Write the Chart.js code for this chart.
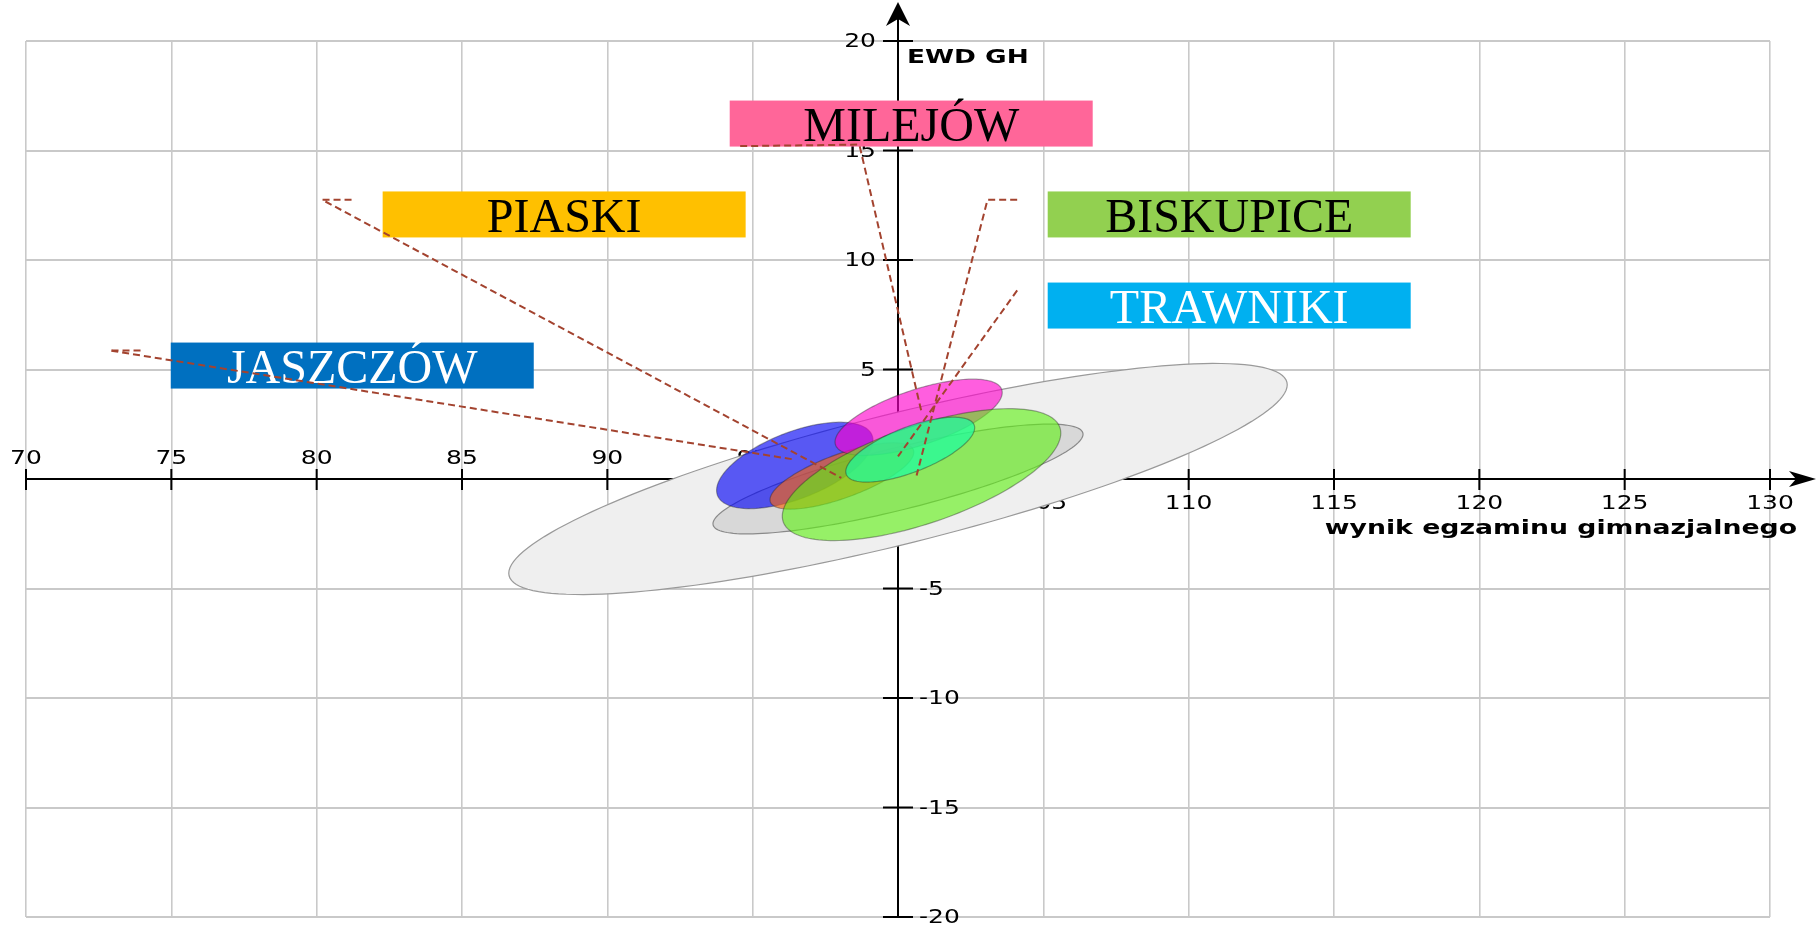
<!DOCTYPE html>
<html>
<head>
<meta charset="utf-8">
<title>EWD GH</title>
<script src="https://cdn.jsdelivr.net/npm/chart.js@4.4.1/dist/chart.umd.min.js"></script>
<style>
    html, body { margin: 0; padding: 0; background: #fff; }
    #wrap { width: 1817px; height: 926px; }
</style>
</head>
<body>
<div id="wrap"><canvas id="ewdChart" width="1817" height="926"></canvas></div>
<script>
// axis ranges
const xRange = [70, 130];
const yRange = [-20, 20];
const tickStep = 5;
const origin = [100, 0];

// ellipses (centre, major semi-axis, minor semi-axis), in axis units
const ellipseNames = ["wszystkie szkoły", "szkoły typowe", "JASZCZÓW", "PIASKI", "MILEJÓW", "BISKUPICE", "TRAWNIKI"];
const ellipseCx = [100, 100, 96.45, 98.07, 100.71, 100.81, 100.42];
const ellipseCy = [0, 0, 0.62, 0.14, 2.82, 0.20, 1.34];
const majorDx = [13.38, 6.36, 2.66, 2.46, 2.86, 4.76, 2.20];
const majorDy = [4.42, 2.10, 1.37, 1.19, 1.26, 2.15, 1.13];
const minorDx = [-0.54, -0.26, -0.41, -0.26, -0.30, -0.54, -0.28];
const minorDy = [2.88, 1.37, 1.42, 0.94, 1.20, 2.11, 0.96];

// name boxes: left edge and middle, in axis units
const labelNames = ["JASZCZÓW", "PIASKI", "MILEJÓW", "BISKUPICE", "TRAWNIKI"];
const labelLeft = [74.98, 82.27, 94.21, 105.15, 105.15];
const labelMid = [5.18, 12.08, 16.23, 12.08, 7.92];

// leader lines from the boxes to the ellipses
const leaderX = [[73.94, 72.87, 96.38], [81.20, 80.19, 98.05], [94.57, 98.67, 100.81], [104.10, 103.08, 100.64], [104.10, 100.00]];
const leaderY = [[5.87, 5.87, 0.90], [12.75, 12.75, 0.05], [15.20, 15.27, 3.05], [12.75, 12.75, 0.16], [8.61, 1.03]];

const xTitle = "wynik egzaminu gimnazjalnego";
const yTitle = "EWD GH";

// styles
const ellipseFill = ["#efefef", "rgba(200,200,200,0.6)", "rgba(0,0,245,0.63)", "rgba(247,100,16,0.65)",
    "rgba(255,0,205,0.63)", "rgba(95,240,20,0.62)", "rgba(20,255,165,0.68)"];
const ellipseLine = ["#9a9a9a", "#8a8a8a", "rgba(40,40,40,0.4)", "rgba(40,40,40,0.4)",
    "rgba(40,40,40,0.4)", "rgba(40,40,40,0.4)", "rgba(40,40,40,0.4)"];
const boxColors = ["#0070C0", "#FFC000", "#FF6699", "#92D050", "#00B0F0"];
const boxText = ["#ffffff", "#000000", "#000000", "#000000", "#ffffff"];
const BOX_W = 363, BOX_H = 46;
const STRETCH = 1.25;     // the sans texts are drawn wide

function wideText(ctx, text, x, y, align, font, sx) {
    ctx.save();
    ctx.translate(x, y);
    ctx.scale(sx, 1);
    ctx.font = font;
    ctx.textAlign = align;
    ctx.fillText(text, 0, 0);
    ctx.restore();
}

const ewdPlugin = {
    id: "ewdDecor",
    beforeDatasetsDraw(chart) {
        const ctx = chart.ctx;
        const xs = chart.scales.x, ys = chart.scales.y;
        const x0 = xs.getPixelForValue(origin[0]);
        const y0 = ys.getPixelForValue(origin[1]);
        const W = chart.width;

        ctx.save();
        ctx.strokeStyle = "#000";
        ctx.fillStyle = "#000";
        ctx.lineWidth = 2;

        // x axis with arrow
        ctx.beginPath();
        ctx.moveTo(xs.left, y0);
        ctx.lineTo(W - 10, y0);
        ctx.stroke();
        ctx.beginPath();
        ctx.moveTo(W - 1, y0);
        ctx.lineTo(W - 28, y0 - 8);
        ctx.lineTo(W - 21, y0);
        ctx.lineTo(W - 28, y0 + 8);
        ctx.closePath();
        ctx.fill();

        // y axis with arrow
        ctx.beginPath();
        ctx.moveTo(x0, ys.bottom);
        ctx.lineTo(x0, 12);
        ctx.stroke();
        ctx.beginPath();
        ctx.moveTo(x0, 2);
        ctx.lineTo(x0 - 12, 26);
        ctx.lineTo(x0, 19);
        ctx.lineTo(x0 + 12, 26);
        ctx.closePath();
        ctx.fill();

        // tick marks and labels
        ctx.textBaseline = "alphabetic";
        const tickFont = "20px 'DejaVu Sans'";
        xs.ticks.forEach(t => {
            if (t.value === origin[0]) return;
            const px = xs.getPixelForValue(t.value);
            ctx.beginPath();
            ctx.moveTo(px, y0 - 10);
            ctx.lineTo(px, y0 + 11);
            ctx.stroke();
            const by = t.value < origin[0] ? y0 - 15 : y0 + 30;
            wideText(ctx, String(t.value), px, by, "center", tickFont, STRETCH);
        });
        ctx.textBaseline = "middle";
        ys.ticks.forEach(t => {
            if (t.value === origin[1]) return;
            const py = ys.getPixelForValue(t.value);
            ctx.beginPath();
            ctx.moveTo(x0 - 15, py);
            ctx.lineTo(x0 + 15, py);
            ctx.stroke();
            if (t.value > 0) wideText(ctx, String(t.value), x0 - 22, py + 1, "right", tickFont, STRETCH);
            else wideText(ctx, String(t.value), x0 + 21, py + 1, "left", tickFont, STRETCH);
        });

        // axis titles
        ctx.textBaseline = "alphabetic";
        wideText(ctx, yTitle, x0 + 9, ys.top + 22, "left", "bold 19.5px 'DejaVu Sans'", 1.35);
        wideText(ctx, xTitle, xs.right + 27, y0 + 55, "right", "bold 19.5px 'DejaVu Sans'", 1.37);

        // ellipses
        ellipseCx.forEach((cx, i) => {
            ctx.beginPath();
            for (let k = 0; k <= 160; k++) {
                const a = k / 160 * Math.PI * 2;
                const vx = cx + Math.cos(a) * majorDx[i] + Math.sin(a) * minorDx[i];
                const vy = ellipseCy[i] + Math.cos(a) * majorDy[i] + Math.sin(a) * minorDy[i];
                const px = xs.getPixelForValue(vx), py = ys.getPixelForValue(vy);
                if (k === 0) ctx.moveTo(px, py); else ctx.lineTo(px, py);
            }
            ctx.closePath();
            ctx.fillStyle = ellipseFill[i];
            ctx.fill();
            ctx.lineWidth = 1.2;
            ctx.strokeStyle = ellipseLine[i];
            ctx.stroke();
        });

        // name boxes
        ctx.textBaseline = "alphabetic";
        labelNames.forEach((name, i) => {
            const left = xs.getPixelForValue(labelLeft[i]);
            const top = ys.getPixelForValue(labelMid[i]) - BOX_H / 2;
            ctx.fillStyle = boxColors[i];
            ctx.fillRect(left, top, BOX_W, BOX_H);
            ctx.fillStyle = boxText[i];
            ctx.font = "48px 'Liberation Serif'";
            ctx.textAlign = "center";
            ctx.fillText(name, left + BOX_W / 2, top + 40.5);
        });

        ctx.restore();
    }
};

let leaderSets = labelNames.map((name, i) => ({
    label: name,
    data: leaderX[i].map((x, k) => ({ x: x, y: leaderY[i][k] })),
    showLine: true,
    borderColor: "#a3432f",
    borderWidth: 2,
    borderDash: [7, 4],
    pointRadius: 0,
    tension: 0,
    fill: false
}));

let ctx = document.getElementById("ewdChart").getContext("2d");
new Chart(ctx, {
    type: "scatter",
    data: { datasets: leaderSets },
    options: {
        responsive: false,
        animation: false,
        devicePixelRatio: 1,
        layout: { padding: { left: 26, right: 47, top: 41, bottom: 9 } },
        plugins: {
            legend: { display: false },
            tooltip: { enabled: false }
        },
        scales: {
            x: {
                type: "linear",
                min: xRange[0], max: xRange[1],
                ticks: { stepSize: tickStep, display: false },
                grid: { color: "#c9c9c9", lineWidth: 1.6, drawTicks: false },
                border: { display: false }
            },
            y: {
                type: "linear",
                min: yRange[0], max: yRange[1],
                ticks: { stepSize: tickStep, display: false },
                grid: { color: "#c9c9c9", lineWidth: 2, drawTicks: false },
                border: { display: false }
            }
        }
    },
    plugins: [ewdPlugin]
});
</script>
</body>
</html>
